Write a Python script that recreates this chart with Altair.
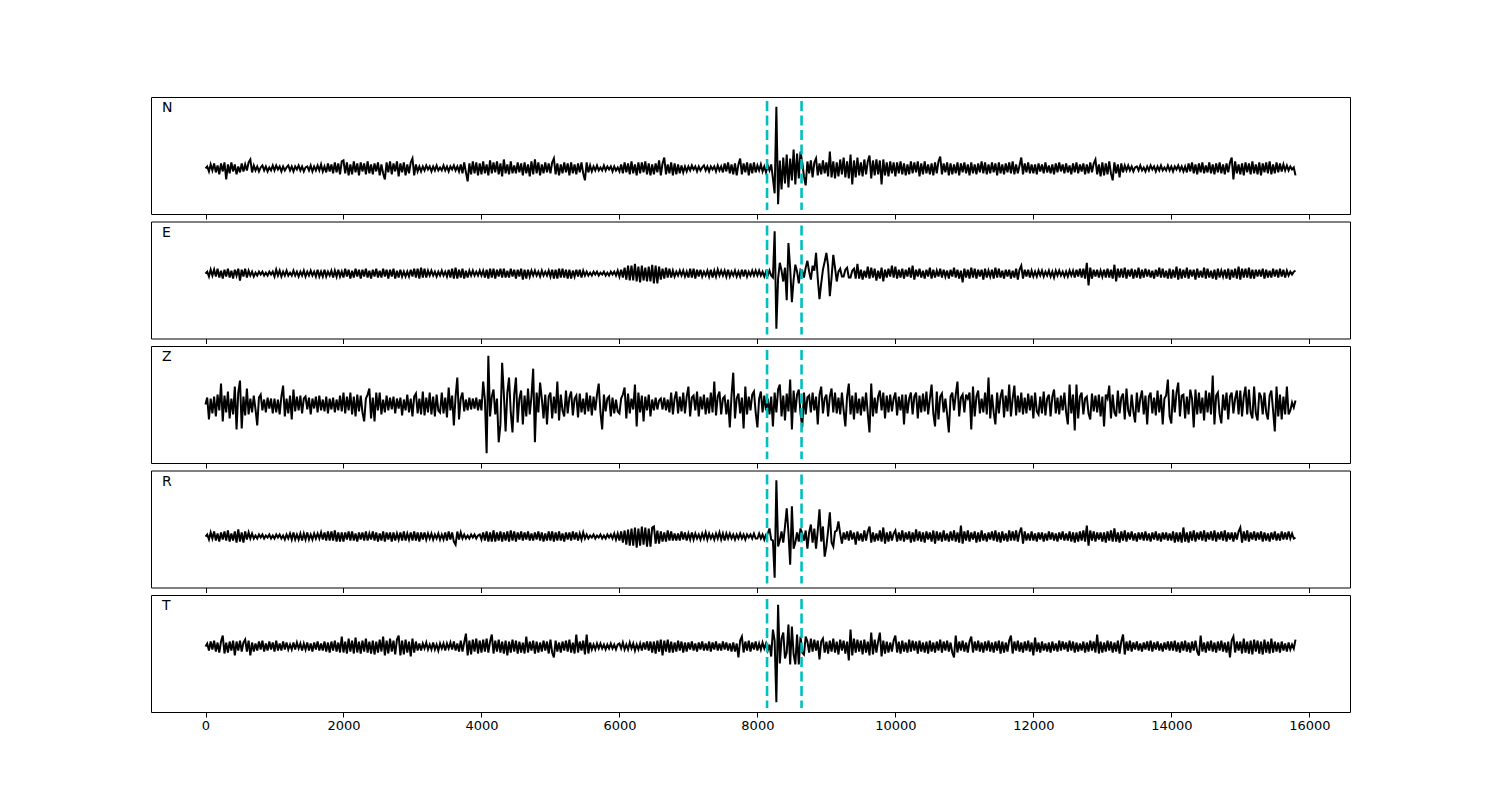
import altair as alt
import pandas as pd

# sample spacing of the traces (samples)
STEP = 25
channels = ["N", "E", "Z", "R", "T"]
picks = [8140, 8640]
tick_values = [0, 2000, 4000, 6000, 8000, 10000, 12000, 14000, 16000]

trace_N = [
    0, 2, -3, 4, -2, 5, -4, 3, -6, 5, -3, 6, -11, 4, -5, 6, -3, 4, -6, 2, -4, 5, -3, 4, -2, 6, 9, -4, 3, -2, 2, -3, 1, 3, -2, 2, -3, 1, -2, 3,
    -2, 3, -1, 2, -3, 2, -2, 1, 3, -2, 2, -3, 2, -1, 3, -2, 2, -3, 1, 2, -2, 3, -3, 2, -2, 3, -2, 4, -3, 2, -4, 5, -3, 4, -5, 6, -4, 5, -6, 7,
    8, -5, 6, -7, 4, -6, 7, -4, 5, -7, 6, -3, 5, -6, 7, -5, 4, -6, 5, -3, 6, -7, 4, -5, -11, 6, -4, 7, -6, 5, -3, 7, -8, 5, -4, 6, -7, 4, -5, 6,
    10, -7, 4, -3, 2, -3, 2, -2, 3, -1, 2, -3, 2, -2, 3, -2, 1, -2, 3, -2, 2, -3, 2, -1, 3, -2, 2, -3, 4, -5, 6, -4, -13, 5, -6, 7, -5, 6, -7, 5,
    -6, 7, -5, 4, -7, 8, -5, 6, -4, 7, -6, 5, -8, 9, -5, 4, -6, 7, -5, 3, -5, 6, -4, 5, -7, 6, -5, 4, -8, 7, -6, 9, -5, 6, -7, 4, -5, 6, -4, 5,
    -5, 6, 10, -6, 5, -7, 4, -5, 6, -4, 5, -7, 6, -5, 4, -6, 5, -4, 6, -5, -12, 6, -4, 3, -3, 2, -2, 3, -2, 1, -2, 3, -2, 2, -1, 2, -3, 2, -2, 1,
    -3, 4, -5, 6, -4, 5, -6, 7, -5, 4, -7, 6, -5, 6, -4, 7, -6, 5, -7, 4, -6, 5, -4, 8, -7, 5, 11, -6, 4, -5, 6, -7, 5, -6, 4, -5, 3, -4, 2, -3,
    2, -2, 3, -1, 2, -3, 2, -2, 1, 3, -2, 2, -3, 2, -1, 2, -3, 3, -2, 2, -4, 5, -3, 6, -5, 4, -6, 5, -7, 4, 10, -6, 5, -4, 6, -7, 5, -5, 6, -4,
    3, -2, 4, -3, 2, -4, 3, -2, 4, -10, -25, 62, -36, 8, -21, 11, -15, 14, -19, 10, -12, 19, -16, 15, -10, 17, 6, -8, -17, 7, -5, 8, -9, 6, 10, -7, 5, -6, 8, -5,
    6, -8, 17, -9, 7, -10, 6, -8, 9, -6, 11, -9, 7, -10, 14, -16, 8, -9, 11, -7, 6, -8, 9, -6, 7, 13, -10, 8, -7, 9, -6, 8, -16, 9, -7, 6, -8, 7, -5, 6,
    -8, 6, -5, 7, -6, 5, -7, 4, -6, 7, -5, 6, -4, 7, -8, 5, -6, 7, -5, 4, -6, 5, -7, 6, -5, 7, 12, -6, 5, -4, 6, -7, 5, -6, 4, -5, 6, -7, 5, -4,
    6, -5, 4, -7, 6, -5, 4, -6, 5, -4, 7, -5, 6, -6, 4, -5, 6, -4, 5, -7, 6, -5, 4, -6, 5, -4, 6, -5, 7, -6, 4, -5, 3, 11, -6, 5, -4, 6, -5, 4,
    -5, 4, -6, 5, -3, 4, -5, 6, -4, 3, -5, 4, -6, 5, -4, 6, -3, 4, -5, 5, -4, 3, -6, 5, -4, 6, -5, 4, -3, 5, -6, 4, -5, 6, -4, 5, 9, -6, 4, -8,
    6, -7, 5, -6, 7, -5, -12, 6, -5, 4, -9, 5, -4, 3, -2, 3, -2, 2, -3, 1, 2, -2, 3, -2, 1, -3, 2, -2, 3, -1, 2, -3, 2, -2, 3, -2, 1, -2, 3, -2,
    2, -3, 2, -1, 3, -2, 2, -3, 2, -4, 5, -3, 6, -5, 4, -6, 5, -4, 6, -5, 3, -4, 6, -5, 4, -6, 5, -4, 6, -5, 4, -6, 5, -4, 6, 11, -11, 7, -5, 4,
    -6, 5, -7, 6, -4, 5, -6, 7, -5, 4, -6, 6, -7, 5, -4, 6, -5, 7, -6, 4, -5, 6, -4, 5, -3, 4, -2, 3, -2, 2, -1, 1, -7,
]

trace_E = [
    0, 2, -3, 4, -2, 4, -3, 5, -4, 3, -5, 4, -3, 5, -4, 3, -5, 4, -2, 5, -7, 4, -3, 5, -4, 3, -2, 2, -3, 1, -2, 2, -1, 2, -2, 1, -2, 2, -1, 2,
    -3, 4, -2, 3, -3, 2, -2, 3, -2, 1, -2, 3, -2, 2, -3, 2, -2, 3, -3, 2, -2, 3, -2, 2, -3, 4, -3, 2, -3, 4, -3, 2, -2, 3, -4, 3, -3, 4, -3, 2,
    -4, 5, -3, 4, -5, 3, -4, 5, -3, 4, -5, 4, -3, 5, -4, 3, -5, 4, -3, 5, -4, 3, -4, 5, -3, 4, -5, 4, -3, 5, -5, 3, -4, 4, -3, 2, -3, 2, -3, 4,
    -3, 5, -4, 5, -5, 6, -4, 5, -4, 3, -2, 3, -2, 2, -3, 2, -2, 3, -2, 2, -3, 4, -4, 5, -5, 6, -5, 4, -4, 5, -5, 3, -4, 3, -2, 3, -2, 2, -2, 3,
    -2, 3, -4, 4, -5, 5, -4, 5, -5, 4, -3, 5, -4, 5, -4, 3, -4, 5, -3, 4, -5, 4, -3, 5, -6, 4, -5, 4, -3, 3, -2, 3, -2, 2, -3, 3, -2, 2, -2, 3,
    -3, 4, -5, 4, -5, 5, -4, 5, -4, 4, -5, 4, -5, 3, -3, 4, -3, 4, -4, 3, -2, 2, -2, 1, -2, 2, -1, 2, -2, 1, -1, 2, -2, 1, -2, 2, -1, 2, -2, 3,
    -3, 4, -4, 6, -6, 8, -7, 8, -7, 10, -8, 7, -9, 8, -7, 6, -8, 7, -8, 9, -10, 8, -10, 7, -6, 5, -5, 6, -4, 5, -4, 3, -3, 2, -2, 3, -2, 3, -3, 2,
    -4, 5, -4, 5, -5, 4, -3, 4, -3, 2, -2, 3, -3, 4, -4, 3, -3, 4, -2, 3, -2, 3, -3, 4, -3, 2, -2, 3, -3, 2, -3, 4, -3, 4, -3, 2, -2, 3, -2, 3,
    -2, 3, -2, 2, -3, 2, -2, 3, -2, -4, 43, -56, -5, 11, 3, -8, 6, -27, 31, 5, -29, -6, 9, 2, -10, 4, 3, -4, 6, 13, 2, -6, 8, 3, 21, -5, -26, -10, 4, 12,
    21, 8, -23, -4, 19, 6, -8, 2, 5, -3, -3, 4, 6, -4, -4, 3, 5, -5, 10, -5, 4, -6, 3, -4, 7, -5, 6, -4, 5, -7, 3, -5, 6, -8, 4, -4, 5, -3, 8, -4,
    7, -5, 4, -4, 5, -5, 4, -3, 6, -4, 8, -6, 4, -3, 5, -4, 3, -5, 4, -3, 6, -5, 4, -4, 3, -3, 5, -4, 4, -3, 3, -5, 4, -3, 6, -4, 4, -5, 3, -9,
    5, -4, 4, -5, 6, -4, 5, -5, 4, -3, 4, -6, 5, -4, 3, -3, 4, -5, 6, -4, 5, -4, 3, -5, 4, -3, 4, -5, 3, -4, 5, -6, 4, 8, -5, 4, -3, 4, -4, 3,
    -3, 2, -3, 3, -2, 3, -3, 2, -2, 3, -3, 2, -4, 3, -2, 3, -2, 2, -3, 2, -3, 3, -2, 3, -4, 4, -3, 5, -4, 5, -5, 11, -12, 6, -5, 4, -3, 4, -4, 3,
    -3, 4, -4, 5, -4, 4, -5, 9, -8, 5, -4, 5, -4, 6, -5, 4, -3, 5, -5, 4, -4, 6, -5, 4, -4, 5, -3, 4, -4, 3, -5, 4, -3, 6, -4, 5, -4, 3, -5, 5,
    -5, 4, -4, 7, -6, 5, -5, 4, -4, 6, -5, 4, -3, 4, -6, 5, -4, 3, -4, 6, -5, 5, -4, 3, -5, 4, -6, 5, -4, 3, -3, 4, -5, 5, -6, 4, -4, 5, -5, 7,
    -6, 5, -4, 5, -4, 6, -5, 4, -5, 4, -3, 4, -3, 5, -5, 4, -4, 3, -4, 5, -3, 4, -4, 5, -3, 4, -4, 3, -2, 2, -1, 2, 3,
]

trace_Z = [
    0, 7, -15, 6, -9, 8, -12, 10, -6, 21, -17, 9, -8, 13, -14, 6, -10, 18, -25, 12, 24, -24, 8, -11, 16, -10, 6, -8, 9, -5, -21, 7, 10, -6, 5, -8, 7, -4, 6, -9,
    6, -8, 5, -10, 8, 19, -12, 6, -9, 9, -15, 15, -7, 8, -6, 9, -9, 6, 8, -5, 7, -10, 6, -4, 8, -8, 9, -6, 5, -7, 8, -9, 6, -5, 7, -8, 5, -6, 9, -7,
    12, -9, 8, -6, 12, -10, 8, -12, 10, -7, 9, -8, -17, 6, 10, 16, -14, 7, -17, 12, -6, 12, -10, 5, -8, 9, -6, 7, -5, 8, -9, 6, -4, 7, -11, 5, -6, 10, -8, 6,
    -12, 8, 11, -9, 6, -10, 13, -11, 7, -8, 12, -10, 8, -12, 10, -6, -8, 12, -9, 7, -13, 17, -6, 9, -21, 8, 27, -15, 6, 12, -7, 5, -6, 7, -5, 6, -4, 7, -6, 5,
    -6, 23, 5, -49, 49, -12, 8, 15, -10, 6, -38, -20, 42, 10, -27, 12, 27, -8, -28, 10, 27, -18, 6, 14, -20, 9, -12, 16, -10, 8, 36, -38, 12, -8, 22, 6, -14, 10, -20, 8,
    12, -14, 8, -9, 23, -16, 10, -6, -12, 14, -9, 7, 13, -11, 6, 9, -13, 11, -8, 6, -10, 12, -7, 9, -11, 8, -6, 10, 21, -8, -25, 10, -7, 6, 8, -12, 7, -9, 5, -7,
    -9, 6, 10, 17, -14, 11, -9, 6, -5, 20, -22, 12, -8, 9, -17, 8, -6, 10, -12, 5, -6, 7, -5, 4, 6, -5, 7, -6, 5, -8, 12, -10, 6, 13, -9, 8, -7, 12, -9, 8,
    18, -12, 7, 9, -6, 13, -12, 8, -5, 10, -10, 7, -9, 12, -8, 23, -11, 8, 13, -10, 6, 8, -10, 5, -23, 9, 32, -14, 6, 11, -9, 7, -24, 18, -10, 8, -6, 10, 13, -8,
    -23, 6, 13, -8, 9, -6, 6, -10, 8, -22, 12, -8, 15, 20, -12, 9, -16, 11, -7, 25, -25, 14, -8, 10, 15, -9, -23, 12, -10, 7, 9, -8, 12, -6, 8, -20, 10, 18, -9, 6,
    10, -12, 8, 16, -8, 12, -9, 7, -10, 12, -6, -22, 8, 21, -10, 9, -15, 12, -9, 6, -11, 8, -7, 12, -9, -28, 21, -12, 7, -9, 8, 14, -6, 12, -14, 9, -8, 10, -7, 6,
    12, -11, 8, -6, 10, -20, 10, -9, 6, 12, -10, 8, 12, -14, 9, -8, 11, -7, 13, -10, 6, 20, -9, -22, 13, -15, 8, 11, -8, 6, -10, -28, 8, 12, -6, 10, 23, -12, 7, 10,
    -8, 10, 6, 12, -25, 18, -12, 8, 14, -9, 6, -8, 12, -10, 27, -14, 10, -8, -20, 12, -9, 8, 15, -13, 9, -7, 20, -12, 6, 19, -11, 9, -8, 12, -10, 7, -9, 11, -6, 9,
    -14, 12, -7, -10, 8, -9, 13, -11, 6, 10, -12, 8, 15, -9, 7, -10, 9, -6, 12, -8, -20, 20, -9, 10, -26, 20, -14, 8, 12, -10, 6, 8, -9, -15, 11, -7, 9, -8, 10, -12,
    8, -22, 10, 6, 19, -14, 10, -8, -12, 14, -9, 7, 11, -15, 16, -6, -12, 10, -7, -18, 12, -8, 6, 14, -10, 9, -20, 8, 12, -9, 7, -11, 14, -8, 10, -20, 6, 9, 25, -12,
    -19, 15, -8, 12, 22, -12, 9, 10, -14, 8, -10, 15, 6, -23, 15, -10, 12, -9, 7, -16, 14, -8, 12, -10, 29, -20, 9, 12, -10, -19, 10, -6, 12, -15, 8, 12, -9, 6, 14, -10,
    14, -12, 8, 18, -10, 15, -8, -14, 18, -9, -16, 12, 8, -10, 12, -8, -15, 9, 14, -6, -27, 18, -12, 10, -15, 8, -10, 18, -10, -6, 2, -3, 4,
]

trace_R = [
    0, 2, -3, 4, -2, 5, -4, 3, -5, 4, -3, 5, -4, 6, -5, 3, -4, 5, -6, 7, -5, 4, -6, 5, -3, 4, -2, 3, -2, 1, -2, 2, -1, 2, -2, 1, -1, 2, -2, 1,
    -2, 2, -1, 2, -2, 1, -3, 2, -2, 3, -3, 4, -3, 2, -3, 3, -4, 3, -3, 4, -3, 2, -3, 3, -2, 3, -2, 4, -3, 4, -4, 5, -4, 5, -4, 6, -5, 4, -5, 4,
    -5, 4, -3, 5, -4, 5, -4, 3, -5, 4, -3, 4, -4, 5, -4, 3, -3, 5, -4, 4, -5, 3, -4, 5, -5, 4, -3, 4, -5, 4, -4, 3, -3, 4, -4, 5, -4, 3, -3, 4,
    -4, 5, -4, 4, -5, 4, -3, 4, -3, 3, -2, 3, -3, 2, -2, 3, -3, 2, -3, 4, -4, 5, -3, 4, -5, -8, 5, -3, 4, -2, 2, -2, 1, -2, 2, -1, 2, -2, 1, 2,
    -3, 4, -4, 5, -5, 4, -5, 6, -5, 4, -4, 5, -5, 4, -4, 5, -5, 6, -4, 5, -5, 4, -3, 5, -4, 4, -3, 5, -4, 3, -4, 4, -3, 5, -4, 4, -5, 3, -4, 5,
    -4, 5, -5, 4, -4, 5, -4, 3, -5, 4, -3, 4, -4, 5, -3, 4, -4, 3, -3, 4, -2, 2, -2, 1, -1, 2, -2, 1, -1, 2, -2, 1, -2, 2, -1, 2, -2, 3, -3, 3,
    -4, 5, -6, 6, -8, 7, -9, 8, -9, 9, -11, 8, -9, 10, -8, 9, -10, 8, -10, 9, 10, -7, 6, -7, 5, -5, 4, -5, 6, -4, 5, -4, 3, -4, 3, -4, 5, -3, 4, -4,
    3, -3, 4, -3, 3, -2, 2, -3, 3, -2, 4, -3, 3, -2, 2, -3, 3, -2, 4, -3, 3, -4, 3, -2, 3, -2, 2, -3, 2, -2, 3, -2, 2, -3, 2, -1, 2, -2, 3, -2,
    -2, 3, -2, 2, -3, 2, 3, 8, -3, -4, -41, 56, -10, -4, 5, -6, 10, 28, 4, -28, 30, -12, -6, 4, -5, 8, 3, -4, 6, -12, 4, 12, -6, 8, -12, 6, 27, -5, 10, -20,
    -10, 6, 24, -6, -10, 5, 6, 15, 3, -7, 4, -3, 5, -4, 6, -3, 4, -8, 5, -4, 3, -5, 6, -4, 5, 10, -6, 4, -5, 3, -4, 6, -5, 9, -7, 4, -5, 5, -4, 3,
    6, -5, 4, -4, 6, -5, 4, -3, 5, -6, 4, -5, 7, -4, 5, -5, 4, -6, 5, -3, 4, -5, 6, -7, 5, -4, 4, -5, 6, -4, 3, -5, 5, -4, 6, -5, 4, -6, 11, -7,
    5, -4, 6, -5, 4, -3, 5, -6, 4, -5, 6, -4, 3, -5, 4, -3, 5, -4, 6, -5, 4, -6, 5, -4, 3, -5, 6, -4, 5, -4, 6, -5, 4, 9, -7, 5, -4, 3, -4, 5,
    -4, 3, -5, 4, -3, 4, -5, 3, -4, 5, -3, 4, -4, 3, -5, 4, -3, 5, -4, 3, -4, 5, -5, 4, -6, 4, -5, 5, -4, 6, -5, 11, -9, 6, -4, 5, -5, 4, -3, 4,
    -5, 4, -6, 5, -4, 6, -5, 8, -5, 4, -6, 5, -4, 6, -5, 4, -3, 5, -4, 3, -5, 4, -3, 4, -4, 5, -4, 3, -5, 4, -3, 5, -4, 3, -5, 4, -3, 4, -4, 3,
    -4, 5, -6, 4, -5, 4, -6, 9, -5, 4, -6, 5, -4, 6, -5, 4, -3, 5, -4, 6, -5, 4, -3, 5, -4, 6, -5, 4, -3, 5, -4, 6, -5, 4, -3, 4, -5, 4, -3, 5,
    9, -6, 5, -4, 6, -5, 4, -3, 5, -4, 4, -3, 5, -5, 4, -4, 3, -5, 4, -3, 5, -4, 3, -4, 5, -3, 4, -3, 5, -2, 3, -2, -1,
]

trace_T = [
    0, 3, -4, 5, -3, 6, -5, 4, -6, 5, 11, -7, 4, -6, 5, -4, 6, -9, 5, -4, 6, -5, 4, 7, -5, 6, -9, 4, -5, 3, -4, 5, -3, 6, -5, 3, -4, 5, -3, 4,
    -5, 6, -4, 3, -4, 5, -3, 4, -3, 2, -3, 4, -3, 4, -2, 3, -4, 3, -3, 4, -4, 3, -5, 4, -3, 5, -4, 3, -4, 5, -5, 4, -6, 5, -4, 6, -5, 4, -6, 10,
    -6, 5, -7, 8, -5, 6, -7, 9, -6, 5, -7, 6, -5, 8, -6, 5, -7, 6, -8, 5, -6, 7, -5, 10, -9, 6, -7, 8, -5, 6, -8, 7, 11, -9, 6, -8, 7, -6, 5, -10,
    8, -6, 5, -4, 3, -4, 3, -2, 4, -3, 2, -3, 4, -3, 2, -4, 3, -2, 3, -4, 3, -2, 4, -3, 5, -4, 3, -5, 6, -5, 4, 13, -9, 6, -8, 7, -5, 8, -7, 6,
    -6, 7, -5, 8, -6, 5, 12, -7, 6, -5, 7, -6, 5, -7, 6, -9, 5, -6, 7, -5, 6, -7, 5, -6, 4, -7, 10, -6, 5, -4, 6, -7, 5, -6, 4, -5, 6, -4, 5, -7,
    7, -6, -11, 6, -5, 4, -6, 5, -4, 6, -5, 7, -6, 4, -7, 12, -6, 5, -4, 6, -8, 12, -7, 4, -3, 2, -3, 3, -2, 3, -2, 2, -3, 2, -2, 3, -2, 2, -3, 2,
    3, -2, 4, -3, 2, -3, 4, -2, 3, -4, 2, -3, 3, -4, 4, -3, 5, -4, 5, -6, 5, -7, 6, -5, 7, -9, 6, -5, 7, -6, 5, -6, 4, -5, 6, -4, 5, -6, 4, -5,
    4, -3, 5, -4, 3, -5, 4, -3, 5, -4, 3, -4, 5, -5, 4, -3, 5, -4, 3, -4, 5, -3, 4, -4, 3, -5, 4, -5, 3, -11, 6, 10, -6, 5, -4, 6, -5, 4, -3, 5,
    -4, 3, -3, 4, -2, 3, -4, 2, -10, 17, 6, -56, 42, -17, 8, 14, -12, -6, 22, -18, 20, -8, -18, 12, -18, 10, -6, -8, 10, 5, -6, 8, -5, 7, -4, 6, -13, 5, 8, -6,
    5, -7, 6, -5, 8, -6, 5, -8, 7, -4, 6, -7, 5, -14, 17, -9, 8, -6, 7, -5, 6, -8, 7, -6, 5, -9, 14, -8, 7, -6, 5, 14, -10, 6, -7, 5, -6, 4, -5, 6,
    11, -6, 5, -7, 6, -5, 4, -6, 7, -5, 6, -4, 5, -7, 6, -5, 4, -6, 5, -7, 6, -5, 4, -6, 5, -4, 7, -6, 5, -4, 6, -5, 4, -6, -11, 11, -6, 5, -4, 6,
    -5, 4, -6, 5, 10, -6, 5, -4, 6, -5, 4, -6, 5, -4, 6, -5, 4, -6, 5, -4, 6, -7, 5, -6, 4, -5, 6, 11, -7, 5, -4, 6, -5, 4, -6, 5, -4, 6, -5, 4,
    -9, 9, -5, 4, -6, 5, -4, 3, -5, 4, -6, 5, -4, 3, -5, 6, -4, 5, -3, 4, -5, 6, -4, 5, -6, 4, -5, 3, -4, 5, -6, 4, -5, 6, -4, 5, -6, 12, -7, 5,
    -6, 4, -5, 6, -4, 5, -6, 4, -5, 6, -7, 5, 12, -8, 5, -4, 6, -5, 4, -3, 5, -4, 3, -5, 4, -3, 5, -4, 6, -5, 4, -3, 5, -4, 3, -5, 4, -3, 5, -4,
    5, -4, 6, -5, 4, -6, 5, -4, 6, -5, 4, -6, 5, -4, 6, -5, -9, 11, -5, 4, -6, 5, -4, 6, -5, 4, -6, 5, -4, 6, -5, 4, -6, 5, -11, 6, 10, -6, 5, -4,
    5, -7, 8, -6, 5, -7, 6, -8, 7, -5, 6, -7, 5, -8, 7, -6, 5, -7, 8, -6, 5, -5, 4, -6, 5, -4, 3, -5, 4, -3, 2, -2, 7,
]

traces = [trace_N, trace_E, trace_Z, trace_R, trace_T]

panels = []
for k, (name, tr) in enumerate(zip(channels, traces)):
    n = len(tr)
    t = [i * STEP for i in range(n)]
    df = pd.DataFrame({"t": t, "amp": tr})
    lo, hi = min(tr), max(tr)
    r = hi - lo
    xmax = t[-1]
    xdom = [-0.05 * xmax, 1.05 * xmax]
    ydom = [lo - 0.1 * r, hi + 0.1 * r]
    last = k == len(channels) - 1
    x_axis = alt.Axis(
        values=tick_values, labels=last, ticks=True, tickSize=5, tickColor="black",
        tickWidth=1, domain=False, grid=False, title=None, format="d",
        labelFont="DejaVu Sans", labelFontSize=13, labelColor="black",
        labelPadding=2, labelFlush=False,
    )
    xscale = alt.Scale(domain=xdom, nice=False, zero=False)
    yscale = alt.Scale(domain=ydom, nice=False, zero=False)
    line = alt.Chart(df).mark_line(color="black", strokeWidth=2).encode(
        x=alt.X("t:Q", scale=xscale, axis=x_axis),
        y=alt.Y("amp:Q", scale=yscale, axis=None),
    )
    pick_df = pd.DataFrame({"t": picks, "lo": [lo - 0.06 * r] * len(picks),
                            "hi": [hi + 0.06 * r] * len(picks)})
    rules = alt.Chart(pick_df).mark_rule(
        color="#00BFBF", strokeWidth=2.6, strokeDash=[10, 4.5]
    ).encode(
        x=alt.X("t:Q", scale=xscale, axis=x_axis),
        y=alt.Y("hi:Q", scale=yscale, axis=None),
        y2="lo:Q",
    )
    label = alt.Chart(pd.DataFrame({"c": [name]})).mark_text(
        align="left", baseline="top", fontSize=14, font="DejaVu Sans", color="black"
    ).encode(x=alt.value(11), y=alt.value(4), text="c:N")
    panels.append(alt.layer(line, rules, label).properties(width=1199, height=117))

chart = alt.vconcat(*panels, spacing=7.5, bounds="flush").properties(
    padding={"left": 142, "top": 88, "right": 5, "bottom": 5}
).configure_view(stroke="black", strokeWidth=1)

chart.save("out.html", embed_options={"renderer": "svg", "actions": False})
